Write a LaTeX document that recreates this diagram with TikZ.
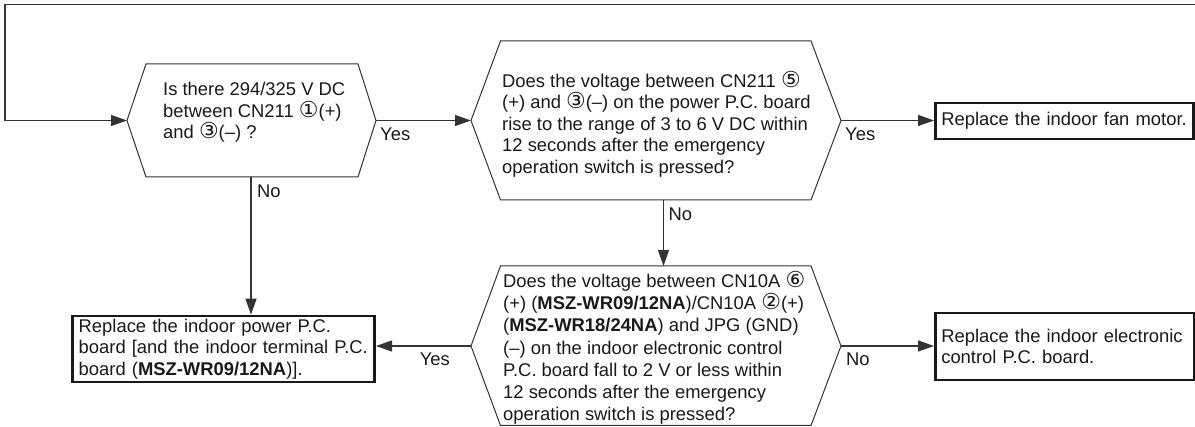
\documentclass[tikz,border=0pt]{standalone}
\usepackage{fontspec}
\setmainfont{Liberation Sans}
\newfontfamily\circfont{DejaVu Sans}
\usetikzlibrary{arrows.meta,calc}
\newcommand{\cnum}[1]{{\circfont\fontsize{22}{15}\selectfont #1}}
\colorlet{inkline}{black!80}
\colorlet{inktext}{black!90}
\tikzset{
  hexline/.style={draw=inkline, line width=1pt, line join=miter},
  flow/.style={draw=inkline, line width=1.2pt, -{Triangle[length=16pt,width=11pt]}},
  qtext/.style={anchor=north west, inner sep=0pt, align=left, text=inktext},
  endbox/.style={draw=inktext, line width=2.6pt, inner xsep=6pt, inner ysep=0pt, align=left, text=inktext},
  lbl/.style={inner sep=0pt, text=inktext}
}

\begin{document}
\begin{tikzpicture}[x=1pt,y=-1pt,font=\fontsize{18.4}{21.5}\selectfont]
\useasboundingbox (0,0) rectangle (1195,427);
% first check
\coordinate (q1l) at (127,120.5);
\coordinate (q1r) at (376,120.5);
\coordinate (q1b) at (251,177);
\draw[hexline] (146,64) -- (358,64) -- (q1r) -- (358,177) -- (146,177) -- (q1l) -- cycle;
\node[qtext] (q1) at (163,82) {Is there 294/325 V DC\\between CN211 \cnum{①}(+)\\and \cnum{③}(–) ?};
% second check
\coordinate (q2l) at (471,120.5);
\coordinate (q2r) at (841,120.5);
\coordinate (q2b) at (663.5,200);
\draw[hexline] (500.5,41) -- (811,41) -- (q2r) -- (811,200) -- (500.5,200) -- (q2l) -- cycle;
\node[qtext] (q2) at (502,71) {Does the voltage between CN211 \cnum{⑤}\\(+) and \cnum{③}(–) on the power P.C. board\\rise to the range of 3 to 6 V DC within\\12 seconds after the emergency\\operation switch is pressed?};
% third check
\coordinate (q3l) at (471,346);
\coordinate (q3r) at (841,346);
\coordinate (q3t) at (663.5,266);
\draw[hexline] (500.5,266) -- (811,266) -- (q3r) -- (811,425.5) -- (500.5,425.5) -- (q3l) -- cycle;
\node[qtext, font=\fontsize{18.4}{22.2}\selectfont] (q3) at (503,271) {Does the voltage between CN10A \cnum{⑥}\\(+) (\textbf{MSZ-WR09/12NA})/CN10A \cnum{②}(+)\\(\textbf{MSZ-WR18/24NA}) and JPG (GND)\\(–) on the indoor electronic control\\P.C. board fall to 2 V or less within\\12 seconds after the emergency\\operation switch is pressed?};
% results
\node[endbox, anchor=west, minimum height=36, text width=246] (b1) at (934,121) {Replace the indoor fan motor.};
\node[endbox, anchor=west, minimum height=67, text width=247] (b2) at (934,346.5) {Replace the indoor electronic\\control P.C. board.};
\node[endbox, anchor=east, minimum height=66, text width=290] (b3) at (376,349) {Replace the indoor power P.C.\\board [and the indoor terminal P.C.\\board (\textbf{MSZ-WR09/12NA})].};
% connectors
\coordinate (loop) at (1195,4.5);
\draw[flow] (loop) -| (5,120.5) -- (q1l);
\draw[flow] (q1r) -- (q2l);
\draw[flow] (q2r) -- (q2r -| b1.west);
\draw[flow] (q2b) -- (q3t);
\draw[flow] (q3r) -- (q3r -| b2.west);
\draw[flow] (q3l) -- (q3l -| b3.east);
\draw[flow] (q1b) -- (q1b |- b3.north);
% yes / no
\node[lbl, anchor=north west] (y1) at ($(q1r)+(4,7.5)$) {Yes};
\node[lbl, anchor=north west] (n1) at ($(q1b)+(6,8)$) {No};
\node[lbl, anchor=north west] (y2) at ($(q2r)+(4,7)$) {Yes};
\node[lbl, anchor=north west] (n2) at ($(q2b)+(5,8)$) {No};
\node[lbl, anchor=north west] (n3) at ($(q3r)+(5,6.5)$) {No};
\node[lbl, anchor=north east] (y3) at ($(q3l)+(-21,6.5)$) {Yes};
\end{tikzpicture}
\end{document}
